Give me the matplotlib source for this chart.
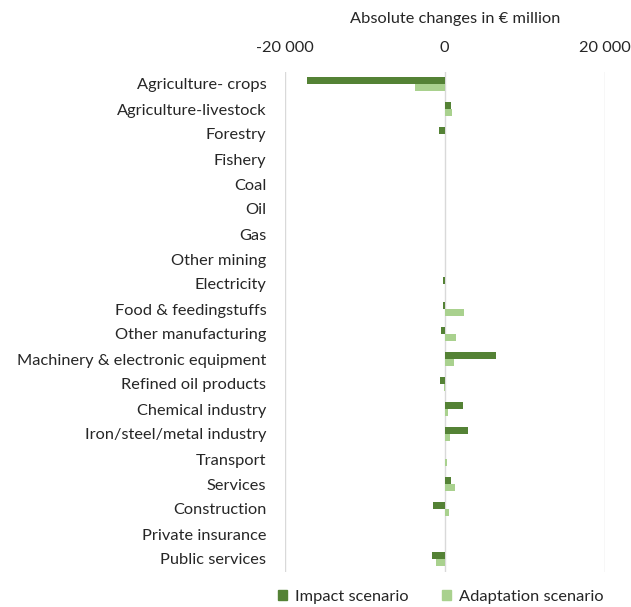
import matplotlib
matplotlib.use("Agg")
import matplotlib.pyplot as plt
import numpy as np
from matplotlib.patches import Patch

plt.rcParams['font.family'] = ['Lato', 'DejaVu Sans']

sectors = [
    "Agriculture- crops", "Agriculture-livestock", "Forestry", "Fishery", "Coal",
    "Oil", "Gas", "Other mining", "Electricity", "Food & feedingstuffs",
    "Other manufacturing", "Machinery & electronic equipment", "Refined oil products",
    "Chemical industry", "Iron/steel/metal industry", "Transport", "Services",
    "Construction", "Private insurance", "Public services",
]
impact = [-17250, 800, -750, 0, 0, 0, 0, 0, -200, -200,
          -450, 6400, -600, 2250, 2950, 0, 800, -1450, 0, -1600]
adaptation = [-3700, 900, 100, 0, 0, 0, 0, 0, 0, 2450,
              1400, 1150, -100, 375, 625, 330, 1250, 500, 0, -1050]
xticks = [-20000, 0, 20000]
xticklabels = ["-20 000", "0", "20 000"]

dark = "#548235"
light = "#a9d18e"
txt = "#262626"
fs = 11.8

fig = plt.figure(figsize=(6.31, 6.07), dpi=100)
ax = fig.add_axes([284.5 / 631, 1 - 571.5 / 607, 320 / 631, 500 / 607])

y = np.arange(len(sectors))
h = 0.29
ax.barh(y - h / 2, impact, height=h, color=dark, zorder=3)
ax.barh(y + h / 2, adaptation, height=h, color=light, zorder=3)

ax.set_xlim(-20000, 20000)
ax.set_ylim(len(sectors) - 0.5, -0.5)
ax.set_yticks(y)
ax.set_yticklabels(sectors, fontsize=fs, color=txt)
ax.set_xticks(xticks)
ax.set_xticklabels(xticklabels, fontsize=fs, color=txt)
ax.xaxis.tick_top()
ax.tick_params(axis="x", length=0, pad=12)
ax.tick_params(axis="y", length=0, pad=13)
ax.grid(axis="x", color="#d9d9d9", linewidth=1, zorder=0)
for s in ax.spines.values():
    s.set_visible(False)

fig.text(455 / 631, 1 - 19 / 607, "Absolute changes in € million",
         ha="center", va="center", fontsize=fs, color=txt)

handles = [Patch(color=dark, label="Impact scenario"),
           Patch(color=light, label="Adaptation scenario")]
fig.legend(handles=handles, loc="center", bbox_to_anchor=(441 / 631, 1 - 597 / 607),
           ncol=2, frameon=False, fontsize=fs, handlelength=0.55, handleheight=0.55,
           handletextpad=0.5, columnspacing=2.0, labelcolor=txt)

fig.savefig("out.png", dpi=100)
